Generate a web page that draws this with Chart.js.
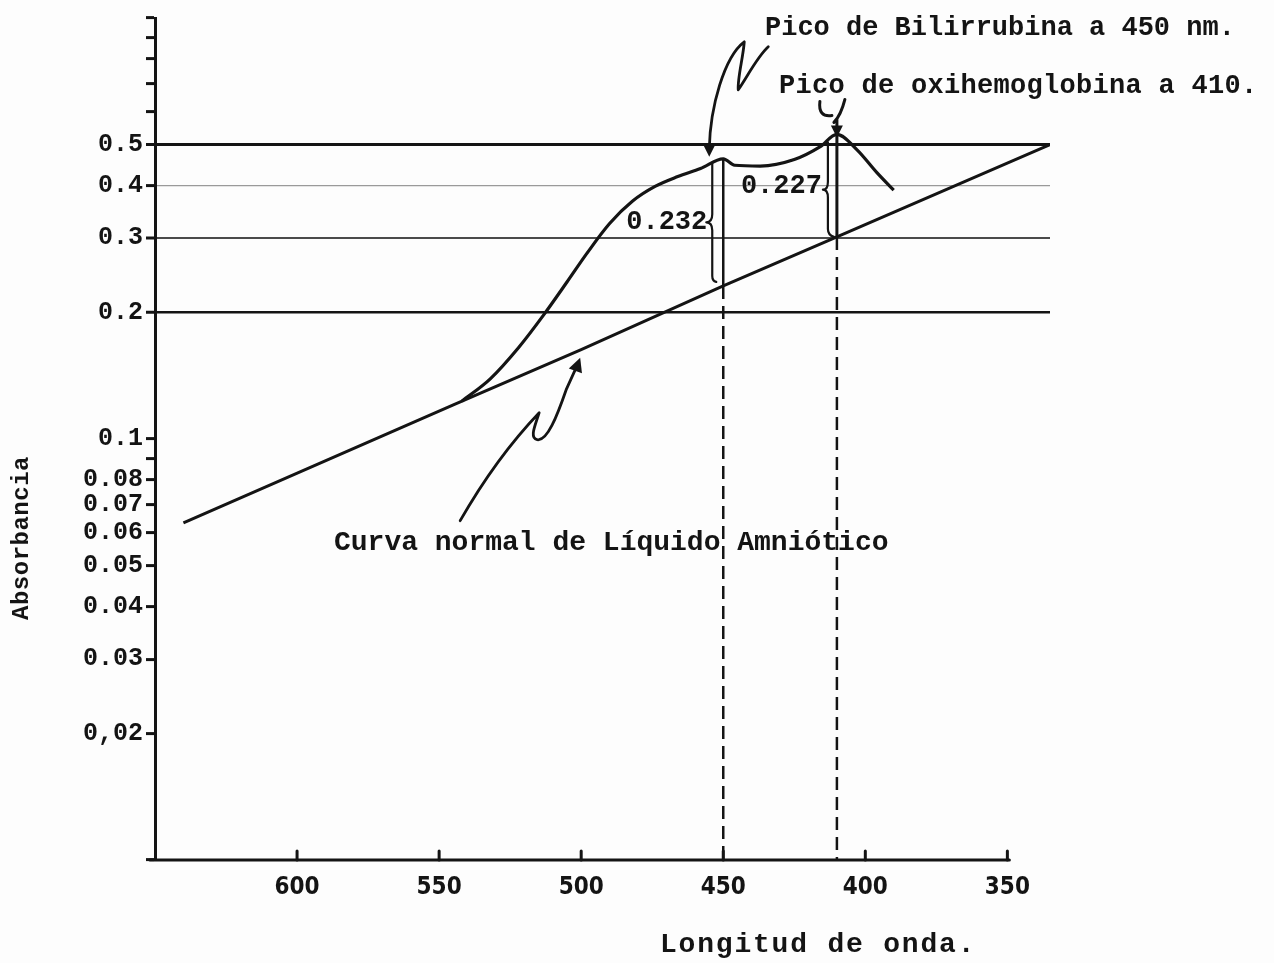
<!DOCTYPE html>
<html>
<head>
<meta charset="utf-8">
<script src="https://cdn.jsdelivr.net/npm/chart.js@4.4.0/dist/chart.umd.min.js"></script>
<style>
  html, body { margin: 0; padding: 0; background: #fdfdfd; }
  #caja { width: 1274px; height: 963px; }
</style>
</head>
<body>
<div id="caja"><canvas id="grafico" width="1274" height="963"></canvas></div>
<script>
// Curva normal de liquido amniotico (recta en escala log)
const ondaNormal = [640, 545, 500, 450, 410, 335];
const absNormal = [0.0632, 0.1205, 0.163, 0.231, 0.302, 0.5];

// Curva de la muestra
const ondaMuestra = [542, 532, 522, 513, 505, 498, 490, 482, 474, 466, 458, 450, 446, 437, 425, 416, 410, 403, 396, 390];
const absMuestra = [0.123, 0.139, 0.165, 0.198, 0.236, 0.276, 0.325, 0.367, 0.398, 0.420, 0.439, 0.463, 0.447, 0.445, 0.461, 0.494, 0.529, 0.487, 0.430, 0.390];

// Picos y diferencias marcadas
const picoBili = 450, deltaBili = '0.232';
const picoOxi = 410, deltaOxi = '0.227';

const ticksX = [600, 550, 500, 450, 400, 350];
const ticksY = [0.01, 0.02, 0.03, 0.04, 0.05, 0.06, 0.07, 0.08, 0.09, 0.1, 0.2, 0.3, 0.4, 0.5, 0.6, 0.7, 0.8, 0.9, 1];
const etiquetasY = ['', '0,02', '0.03', '0.04', '0.05', '0.06', '0.07', '0.08', '', '0.1', '0.2', '0.3', '0.4', '0.5', '', '', '', '', ''];

const MONO = '"Liberation Mono", "Courier New", monospace';
const NEGRO = '#141414';

const pares = (xs, ys) => xs.map((v, i) => ({ x: v, y: ys[i] }));

const iB = ondaMuestra.indexOf(picoBili), nB = ondaNormal.indexOf(picoBili);
const iO = ondaMuestra.indexOf(picoOxi), nO = ondaNormal.indexOf(picoOxi);

function punta(ctx, x, y, ang, l) {
  ctx.save();
  ctx.translate(x, y);
  ctx.rotate(ang);
  ctx.beginPath();
  ctx.moveTo(0, 0);
  ctx.lineTo(-l, -l * 0.5);
  ctx.lineTo(-l, l * 0.5);
  ctx.closePath();
  ctx.fill();
  ctx.restore();
}

function texto(ctx, s, x, y, size, align, esp) {
  ctx.font = 'bold ' + size + 'px ' + MONO;
  ctx.textAlign = align || 'left';
  ctx.textBaseline = 'middle';
  ctx.letterSpacing = (esp || 0) + 'px';
  ctx.fillText(s, x, y);
  ctx.letterSpacing = '0px';
}

const trazos = {
  id: 'trazos',
  afterDraw(chart) {
    const { ctx, scales: { x, y } } = chart;
    ctx.save();
    ctx.strokeStyle = NEGRO;
    ctx.fillStyle = NEGRO;
    ctx.lineCap = 'round';
    ctx.lineJoin = 'round';

    // eje x con marcas hacia arriba
    const y0 = y.bottom;
    ctx.lineWidth = 3;
    ctx.beginPath();
    ctx.moveTo(x.left - 5, y0);
    ctx.lineTo(x.getPixelForValue(350) + 2, y0);
    ctx.stroke();
    ticksX.forEach(v => {
      const px = x.getPixelForValue(v);
      ctx.beginPath();
      ctx.moveTo(px, y0);
      ctx.lineTo(px, y0 - 9);
      ctx.stroke();
    });

    // flecha y llave del pico de bilirrubina
    const bx = x.getPixelForValue(picoBili);
    const byS = y.getPixelForValue(absMuestra[iB]);
    const byN = y.getPixelForValue(absNormal[nB]);
    const tx = bx - 14, ty = byS - 2;
    ctx.lineWidth = 2.8;
    ctx.beginPath();
    ctx.moveTo(tx, ty - 8);
    ctx.bezierCurveTo(tx + 1, ty - 50, tx + 15, ty - 100, tx + 35, ty - 115);
    ctx.bezierCurveTo(tx + 34, ty - 100, tx + 28, ty - 78, tx + 29, ty - 67);
    ctx.bezierCurveTo(tx + 38, ty - 80, tx + 48, ty - 100, tx + 59, ty - 110);
    ctx.stroke();
    punta(ctx, tx, ty, Math.PI / 2, 12);

    const kx = bx - 11, kmid = (byS + byN) / 2;
    ctx.lineWidth = 2.2;
    ctx.beginPath();
    ctx.moveTo(kx, byS + 4);
    ctx.lineTo(kx, kmid - 8);
    ctx.quadraticCurveTo(kx, kmid, kx - 6, kmid);
    ctx.quadraticCurveTo(kx, kmid, kx, kmid + 8);
    ctx.lineTo(kx, byN - 10);
    ctx.quadraticCurveTo(kx, byN - 5, kx + 4, byN - 4);
    ctx.stroke();
    texto(ctx, deltaBili, kx - 5, kmid, 27, 'right');

    // marca y llave del pico de oxihemoglobina
    const ox = x.getPixelForValue(picoOxi);
    const oyS = y.getPixelForValue(absMuestra[iO]);
    const oyN = y.getPixelForValue(absNormal[nO]);
    ctx.lineWidth = 3;
    ctx.beginPath();
    ctx.moveTo(ox - 17, oyS - 33);
    ctx.quadraticCurveTo(ox - 19, oyS - 17, ox - 5, oyS - 19);
    ctx.moveTo(ox + 8, oyS - 35);
    ctx.quadraticCurveTo(ox + 4, oyS - 19, ox - 3, oyS - 12);
    ctx.moveTo(ox, oyS - 16);
    ctx.lineTo(ox, oyS);
    ctx.stroke();
    punta(ctx, ox, oyS + 3, Math.PI / 2, 12);

    const qx = ox - 9, qmid = (oyS + oyN) / 2 + 4;
    ctx.lineWidth = 2.2;
    ctx.beginPath();
    ctx.moveTo(qx, oyS + 8);
    ctx.lineTo(qx, qmid - 8);
    ctx.quadraticCurveTo(qx, qmid, qx - 5, qmid);
    ctx.quadraticCurveTo(qx, qmid, qx, qmid + 8);
    ctx.lineTo(qx, oyN - 8);
    ctx.quadraticCurveTo(qx, oyN - 2, qx + 6, oyN);
    ctx.stroke();
    texto(ctx, deltaOxi, qx - 6, (oyS + oyN) / 2 + 1, 27, 'right');

    // flecha hacia la curva normal
    const ax = x.getPixelForValue(500), ay = y.getPixelForValue(absNormal[ondaNormal.indexOf(500)]) + 8;
    ctx.lineWidth = 2.8;
    ctx.beginPath();
    ctx.moveTo(ax - 121, ay + 163);
    ctx.quadraticCurveTo(ax - 85, ay + 100, ax - 42, ay + 55);
    ctx.bezierCurveTo(ax - 46, ay + 68, ax - 52, ay + 80, ax - 44, ay + 82);
    ctx.bezierCurveTo(ax - 34, ay + 84, ax - 24, ay + 58, ax - 15, ay + 32);
    ctx.lineTo(ax - 5, ay + 10);
    ctx.stroke();
    punta(ctx, ax - 1, ay, -Math.PI / 2 + 0.35, 14);

    // textos
    texto(ctx, 'Pico de Bilirrubina a 450 nm.', 765, 28, 27);
    texto(ctx, 'Pico de oxihemoglobina a 410.', 779, 86, 27, 'left', 0.3);
    texto(ctx, 'Curva normal de Líquido Amniótico', 334, 543, 28);
    texto(ctx, 'Longitud de onda.', 660, 945, 28, 'left', 1.8);

    ctx.save();
    ctx.translate(22, 538);
    ctx.rotate(-Math.PI / 2);
    texto(ctx, 'Absorbancia', 0, 0, 24, 'center', 0.5);
    ctx.restore();

    ctx.restore();
  }
};

const config = {
  type: 'line',
  data: {
    datasets: [
      {
        label: 'Curva normal',
        data: pares(ondaNormal, absNormal),
        borderColor: NEGRO,
        borderWidth: 3,
        pointRadius: 0,
        tension: 0
      },
      {
        label: 'Muestra',
        data: pares(ondaMuestra, absMuestra),
        borderColor: NEGRO,
        borderWidth: 3.2,
        pointRadius: 0,
        cubicInterpolationMode: 'monotone'
      },
      {
        label: 'Bilirrubina',
        data: [{ x: picoBili, y: absMuestra[iB] }, { x: picoBili, y: absNormal[nB] }],
        borderColor: NEGRO,
        borderWidth: 2.5,
        pointRadius: 0
      },
      {
        label: 'Bilirrubina guia',
        data: [{ x: picoBili, y: absNormal[nB] }, { x: picoBili, y: 0.01 }],
        borderColor: NEGRO,
        borderWidth: 2.5,
        borderDash: [13, 7],
        pointRadius: 0
      },
      {
        label: 'Oxihemoglobina',
        data: [{ x: picoOxi, y: absMuestra[iO] }, { x: picoOxi, y: absNormal[nO] }],
        borderColor: NEGRO,
        borderWidth: 3,
        pointRadius: 0
      },
      {
        label: 'Oxihemoglobina guia',
        data: [{ x: picoOxi, y: absNormal[nO] }, { x: picoOxi, y: 0.01 }],
        borderColor: NEGRO,
        borderWidth: 2.5,
        borderDash: [13, 7],
        pointRadius: 0
      }
    ]
  },
  options: {
    responsive: false,
    animation: false,
    layout: { padding: { left: 0, top: 15, right: 224, bottom: 0 } },
    plugins: { legend: { display: false }, tooltip: { enabled: false } },
    scales: {
      x: {
        type: 'linear',
        min: 335,
        max: 650,
        reverse: true,
        afterBuildTicks: s => { s.ticks = ticksX.map(v => ({ value: v })); },
        afterFit: s => { s.height = 103; },
        grid: { display: false, drawTicks: false },
        border: { display: false },
        ticks: {
          autoSkip: false,
          maxRotation: 0,
          padding: 13,
          color: NEGRO,
          font: { family: '"Liberation Sans Narrow", "DejaVu Sans Condensed", sans-serif', size: 24, weight: 'bold' }
        }
      },
      y: {
        type: 'logarithmic',
        min: 0.01,
        max: 1,
        afterBuildTicks: s => { s.ticks = ticksY.map(v => ({ value: v })); },
        afterFit: s => { s.width = 155; },
        grid: {
          color: c => {
            const v = c.tick && c.tick.value;
            if (v === 0.5 || v === 0.2) return NEGRO;
            if (v === 0.3) return '#4a4a4a';
            if (v === 0.4) return '#9a9a9a';
            return 'rgba(0,0,0,0)';
          },
          lineWidth: c => {
            const v = c.tick && c.tick.value;
            if (v === 0.5) return 3;
            if (v === 0.2) return 2.5;
            if (v === 0.3) return 2;
            return 1.2;
          },
          tickColor: NEGRO,
          tickWidth: 3,
          tickLength: 9
        },
        border: { display: true, color: NEGRO, width: 3 },
        ticks: {
          autoSkip: false,
          padding: 3,
          color: NEGRO,
          font: { family: MONO, size: 25, weight: 'bold' },
          callback: (v) => {
            const i = ticksY.findIndex(t => Math.abs(t - v) < 1e-9);
            return i >= 0 ? etiquetasY[i] : '';
          }
        }
      }
    }
  },
  plugins: [trazos]
};

new Chart(document.getElementById('grafico'), config);
</script>
</body>
</html>
